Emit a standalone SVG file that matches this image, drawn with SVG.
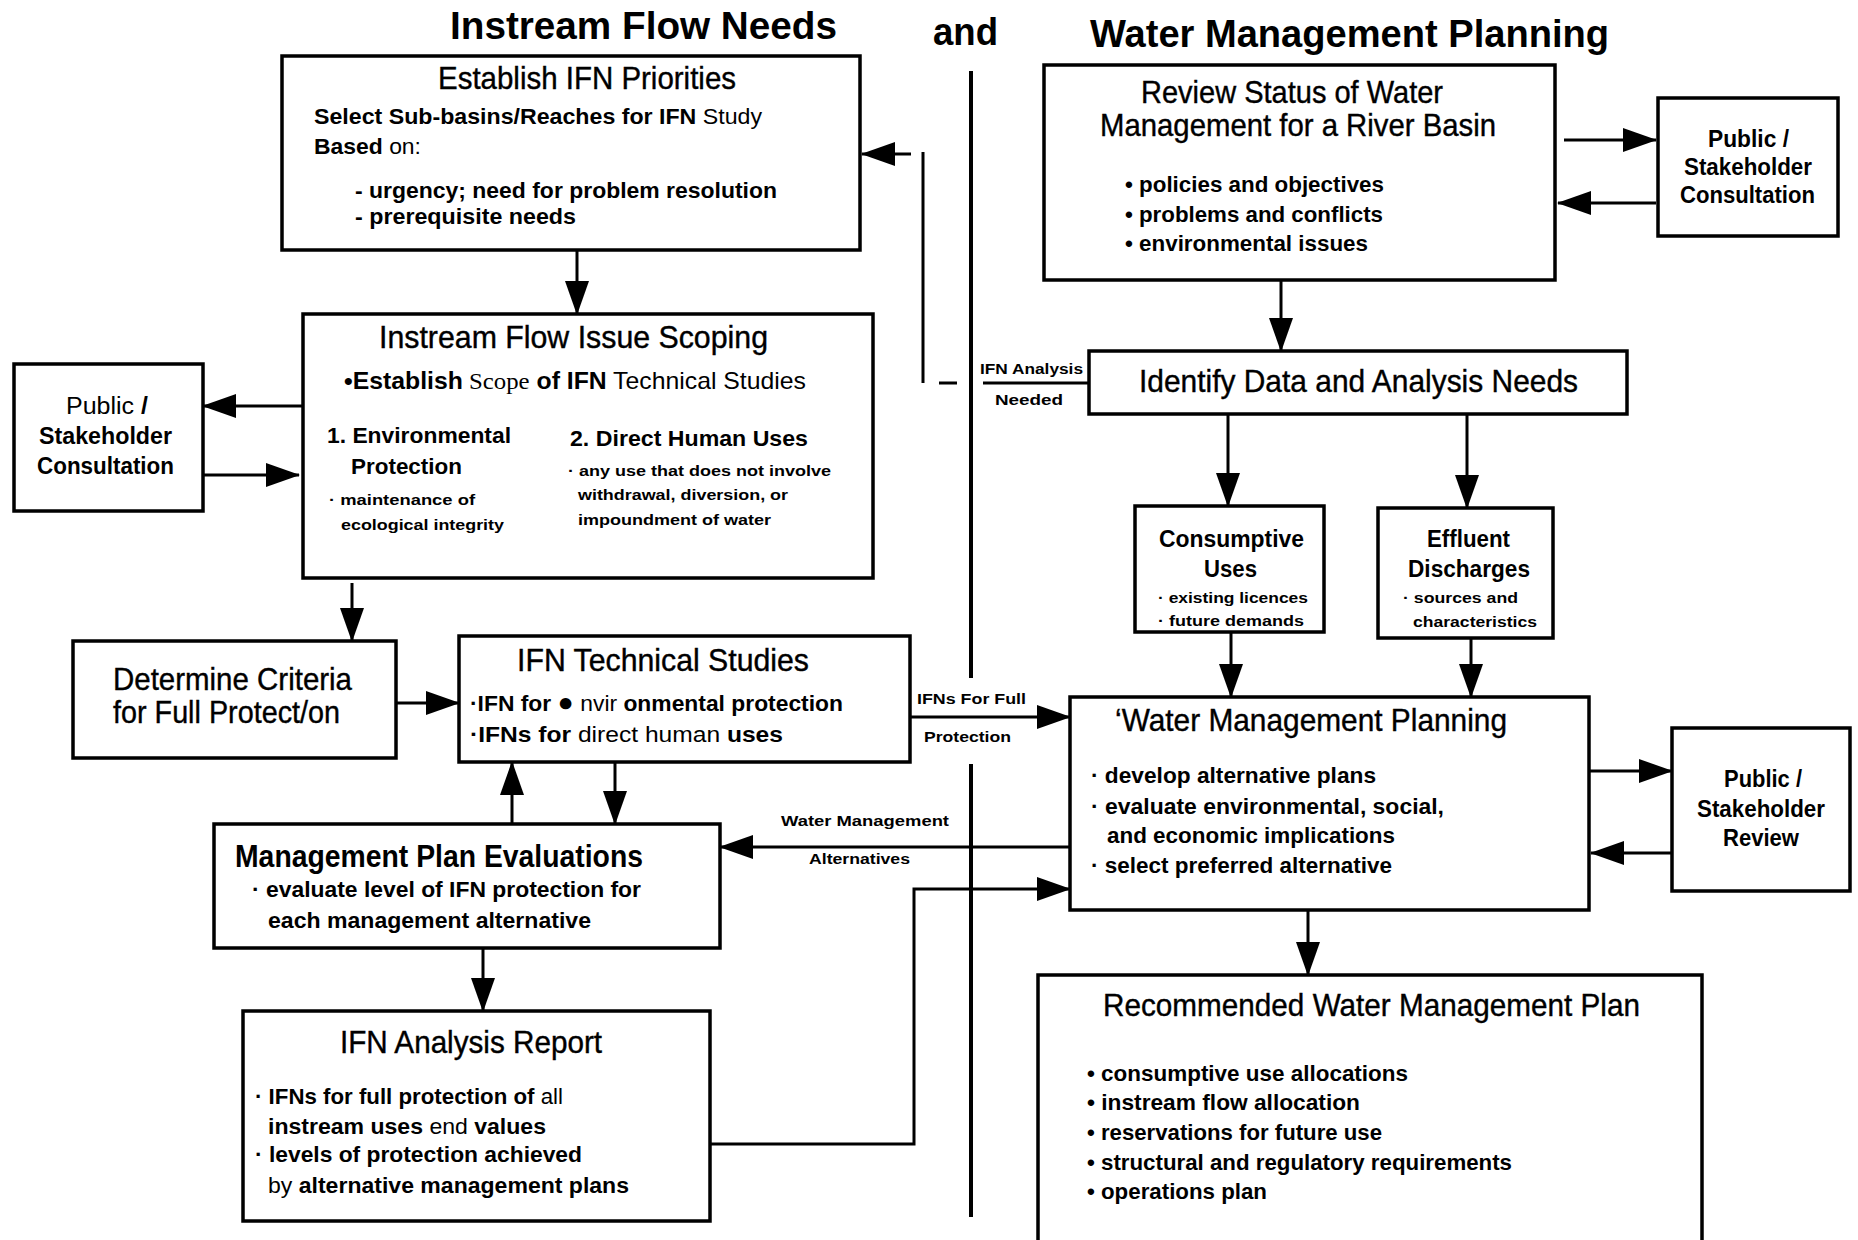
<svg xmlns="http://www.w3.org/2000/svg" width="1858" height="1240" viewBox="0 0 1858 1240">
<style>
.box{fill:#fff;stroke:#000;stroke-width:3.5}
.ln{fill:none;stroke:#000;stroke-width:3}
.ar{fill:none;stroke:#000;stroke-width:3;marker-end:url(#ah)}
text{font-family:"Liberation Sans",Arial,sans-serif;fill:#000}
.ti{font-size:38px;font-weight:bold}
.hd{font-size:32px;stroke:#000;stroke-width:0.4}
.bl{font-size:22px;font-weight:bold}
.sm{font-size:15px;font-weight:bold}
.lb{font-size:14px;font-weight:bold}
.pb{font-size:23px;font-weight:bold}
.r{font-weight:normal}
.sf{font-family:"Liberation Serif",serif;font-weight:normal}
</style>
<defs>
<marker id="ah" markerUnits="userSpaceOnUse" markerWidth="34" markerHeight="24" refX="33" refY="12" orient="auto"><path d="M0,0 L34,12 L0,24 z" fill="#000"/></marker>
</defs>

<g id="titles">
<text class="ti" x="450" y="39" textLength="387" lengthAdjust="spacingAndGlyphs">Instream Flow Needs</text>
<text class="ti" x="933" y="45" textLength="65" lengthAdjust="spacingAndGlyphs">and</text>
<text class="ti" x="1090" y="47" textLength="519" lengthAdjust="spacingAndGlyphs">Water  Management  Planning</text>
</g>

<g id="connectors">
<path class="ar" d="M577,250 L577,314"/>
<path class="ar" d="M303,406 L203,406"/>
<path class="ar" d="M203,475 L299,475"/>
<path class="ar" d="M352,583 L352,641"/>
<path class="ar" d="M396,703 L459,703"/>
<path class="ar" d="M512,824 L512,762"/>
<path class="ar" d="M615,762 L615,824"/>
<path class="ar" d="M483,948 L483,1011"/>
<path class="ar" d="M710,1144 L914,1144 L914,889 L1070,889"/>
<path class="ln" d="M971,71 L971,678 M971,764 L971,1217" style="stroke-width:4"/>
<path class="ar" d="M910,717 L1070,717"/>
<path class="ar" d="M1070,847 L720,847"/>
<path class="ar" d="M1564,140 L1656,140"/>
<path class="ar" d="M1656,203 L1558,203"/>
<path class="ar" d="M1281,280 L1281,351"/>
<path class="ar" d="M1228,414 L1228,506"/>
<path class="ar" d="M1467,414 L1467,508"/>
<path class="ar" d="M1231,632 L1231,697"/>
<path class="ar" d="M1471,638 L1471,697"/>
<path class="ar" d="M1589,771 L1672,771"/>
<path class="ar" d="M1672,853 L1591,853"/>
<path class="ar" d="M1308,910 L1308,975"/>
<path class="ln" d="M1089,383 L983,383 M957,383 L939,383 M923,383 L923,152"/>
<path class="ar" d="M911,154 L862,154"/>
<text class="lb" x="980" y="374" textLength="103" lengthAdjust="spacingAndGlyphs">IFN Analysis</text>
<text class="lb" x="995" y="405" textLength="68" lengthAdjust="spacingAndGlyphs">Needed</text>
<text class="lb" x="917" y="704" textLength="109" lengthAdjust="spacingAndGlyphs">IFNs For Full</text>
<text class="lb" x="924" y="742" textLength="87" lengthAdjust="spacingAndGlyphs">Protection</text>
<text class="lb" x="781" y="826" textLength="168" lengthAdjust="spacingAndGlyphs">Water Management</text>
<text class="lb" x="809" y="864" textLength="101" lengthAdjust="spacingAndGlyphs">Alternatives</text>
</g>

<g id="establish-priorities">
<rect class="box" x="282" y="56" width="578" height="194"/>
<text class="hd" x="438" y="89" textLength="298" lengthAdjust="spacingAndGlyphs">Establish IFN Priorities</text>
<text class="bl" x="314" y="124" textLength="448" lengthAdjust="spacingAndGlyphs">Select Sub-basins/Reaches for IFN<tspan class="r"> Study</tspan></text>
<text class="bl" x="314" y="154" textLength="107" lengthAdjust="spacingAndGlyphs">Based<tspan class="r"> on:</tspan></text>
<text class="bl" x="355" y="198" textLength="422" lengthAdjust="spacingAndGlyphs">- urgency; need for problem resolution</text>
<text class="bl" x="355" y="224" textLength="221" lengthAdjust="spacingAndGlyphs">- prerequisite needs</text>
</g>

<g id="issue-scoping">
<rect class="box" x="303" y="314" width="570" height="264"/>
<text class="hd" x="379" y="348" textLength="389" lengthAdjust="spacingAndGlyphs">Instream Flow Issue Scoping</text>
<text class="bl" x="344" y="389" textLength="462" lengthAdjust="spacingAndGlyphs" style="font-size:24px">•Establish<tspan class="sf"> Scope</tspan> of IFN<tspan class="r">  Technical  Studies</tspan></text>
<text class="bl" x="327" y="443" textLength="184" lengthAdjust="spacingAndGlyphs">1. Environmental</text>
<text class="bl" x="351" y="474" textLength="111" lengthAdjust="spacingAndGlyphs">Protection</text>
<text class="sm" x="329" y="505" textLength="146" lengthAdjust="spacingAndGlyphs">· maintenance of</text>
<text class="sm" x="341" y="530" textLength="163" lengthAdjust="spacingAndGlyphs">ecological integrity</text>
<text class="bl" x="570" y="446" textLength="238" lengthAdjust="spacingAndGlyphs">2. Direct Human Uses</text>
<text class="sm" x="568" y="476" textLength="263" lengthAdjust="spacingAndGlyphs">· any use that does not involve</text>
<text class="sm" x="578" y="500" textLength="210" lengthAdjust="spacingAndGlyphs">withdrawal, diversion, or</text>
<text class="sm" x="578" y="525" textLength="193" lengthAdjust="spacingAndGlyphs">impoundment of water</text>
</g>

<g id="public-consultation-left">
<rect class="box" x="14" y="364" width="189" height="147"/>
<text class="pb" x="66" y="414" textLength="82" lengthAdjust="spacingAndGlyphs"><tspan class="r">Public</tspan> /</text>
<text class="pb" x="39" y="444" textLength="133" lengthAdjust="spacingAndGlyphs">Stakeholder</text>
<text class="pb" x="37" y="474" textLength="137" lengthAdjust="spacingAndGlyphs">Consultation</text>
</g>

<g id="determine-criteria">
<rect class="box" x="73" y="641" width="323" height="117"/>
<text class="hd" x="113" y="690" textLength="239" lengthAdjust="spacingAndGlyphs">Determine Criteria</text>
<text class="hd" x="113" y="723" textLength="227" lengthAdjust="spacingAndGlyphs">for Full Protect/on</text>
</g>

<g id="technical-studies">
<rect class="box" x="459" y="636" width="451" height="126"/>
<text class="hd" x="517" y="671" textLength="292" lengthAdjust="spacingAndGlyphs">IFN  Technical  Studies</text>
<text class="bl" x="470" y="711" textLength="373" lengthAdjust="spacingAndGlyphs">·IFN for  <tspan style="font-size:26px">●</tspan>  <tspan class="r">nvir </tspan>onmental protection</text>
<text class="bl" x="470" y="742" textLength="313" lengthAdjust="spacingAndGlyphs">·IFNs for<tspan class="r"> direct  human </tspan> uses</text>
</g>

<g id="plan-evaluations">
<rect class="box" x="214" y="824" width="506" height="124"/>
<text class="hd" x="235" y="867" textLength="408" lengthAdjust="spacingAndGlyphs" style="font-weight:bold;stroke-width:0">Management Plan Evaluations</text>
<text class="bl" x="252" y="897" textLength="389" lengthAdjust="spacingAndGlyphs">· evaluate level of IFN protection for</text>
<text class="bl" x="268" y="928" textLength="323" lengthAdjust="spacingAndGlyphs">each management alternative</text>
</g>

<g id="analysis-report">
<rect class="box" x="243" y="1011" width="467" height="210"/>
<text class="hd" x="340" y="1053" textLength="262" lengthAdjust="spacingAndGlyphs">IFN  Analysis  Report</text>
<text class="bl" x="255" y="1104" textLength="308" lengthAdjust="spacingAndGlyphs">· IFNs for full protection of<tspan class="r"> all</tspan></text>
<text class="bl" x="268" y="1134" textLength="278" lengthAdjust="spacingAndGlyphs">instream uses<tspan class="r"> end </tspan>values</text>
<text class="bl" x="255" y="1162" textLength="327" lengthAdjust="spacingAndGlyphs">· levels of protection achieved</text>
<text class="bl" x="268" y="1193" textLength="361" lengthAdjust="spacingAndGlyphs"><tspan class="r">by </tspan>alternative management plans</text>
</g>

<g id="review-status">
<rect class="box" x="1044" y="65" width="511" height="215"/>
<text class="hd" x="1141" y="103" textLength="302" lengthAdjust="spacingAndGlyphs">Review Status of Water</text>
<text class="hd" x="1100" y="136" textLength="396" lengthAdjust="spacingAndGlyphs">Management  for  a  River  Basin</text>
<text class="bl" x="1125" y="192" textLength="259" lengthAdjust="spacingAndGlyphs">• policies and objectives</text>
<text class="bl" x="1125" y="222" textLength="258" lengthAdjust="spacingAndGlyphs">• problems and conflicts</text>
<text class="bl" x="1125" y="251" textLength="243" lengthAdjust="spacingAndGlyphs">• environmental issues</text>
</g>

<g id="public-consultation-right">
<rect class="box" x="1658" y="98" width="180" height="138"/>
<text class="pb" x="1708" y="147" textLength="81" lengthAdjust="spacingAndGlyphs">Public /</text>
<text class="pb" x="1684" y="175" textLength="128" lengthAdjust="spacingAndGlyphs">Stakeholder</text>
<text class="pb" x="1680" y="203" textLength="135" lengthAdjust="spacingAndGlyphs">Consultation</text>
</g>

<g id="identify-needs">
<rect class="box" x="1089" y="351" width="538" height="63"/>
<text class="hd" x="1139" y="392" textLength="439" lengthAdjust="spacingAndGlyphs">Identify Data and Analysis Needs</text>
</g>

<g id="consumptive-uses">
<rect class="box" x="1135" y="506" width="189" height="126"/>
<text class="pb" x="1159" y="547" textLength="145" lengthAdjust="spacingAndGlyphs">Consumptive</text>
<text class="pb" x="1204" y="577" textLength="53" lengthAdjust="spacingAndGlyphs">Uses</text>
<text class="sm" x="1158" y="603" textLength="150" lengthAdjust="spacingAndGlyphs">· existing licences</text>
<text class="sm" x="1158" y="626" textLength="146" lengthAdjust="spacingAndGlyphs">· future demands</text>
</g>

<g id="effluent-discharges">
<rect class="box" x="1378" y="508" width="175" height="130"/>
<text class="pb" x="1427" y="547" textLength="83" lengthAdjust="spacingAndGlyphs">Effluent</text>
<text class="pb" x="1408" y="577" textLength="122" lengthAdjust="spacingAndGlyphs">Discharges</text>
<text class="sm" x="1403" y="603" textLength="115" lengthAdjust="spacingAndGlyphs">· sources and</text>
<text class="sm" x="1413" y="627" textLength="124" lengthAdjust="spacingAndGlyphs">characteristics</text>
</g>

<g id="water-management-planning">
<rect class="box" x="1070" y="697" width="519" height="213"/>
<text class="hd" x="1115" y="731" textLength="392" lengthAdjust="spacingAndGlyphs">‘Water  Management  Planning</text>
<text class="bl" x="1091" y="783" textLength="285" lengthAdjust="spacingAndGlyphs">· develop alternative plans</text>
<text class="bl" x="1091" y="814" textLength="353" lengthAdjust="spacingAndGlyphs">· evaluate environmental,  social,</text>
<text class="bl" x="1107" y="843" textLength="288" lengthAdjust="spacingAndGlyphs">and economic implications</text>
<text class="bl" x="1091" y="873" textLength="301" lengthAdjust="spacingAndGlyphs">· select preferred alternative</text>
</g>

<g id="public-review">
<rect class="box" x="1672" y="728" width="178" height="163"/>
<text class="pb" x="1724" y="787" textLength="78" lengthAdjust="spacingAndGlyphs">Public /</text>
<text class="pb" x="1697" y="817" textLength="128" lengthAdjust="spacingAndGlyphs">Stakeholder</text>
<text class="pb" x="1723" y="846" textLength="76" lengthAdjust="spacingAndGlyphs">Review</text>
</g>

<g id="recommended-plan">
<rect class="box" x="1038" y="975" width="664" height="290"/>
<text class="hd" x="1103" y="1016" textLength="537" lengthAdjust="spacingAndGlyphs">Recommended  Water  Management  Plan</text>
<text class="bl" x="1087" y="1081" textLength="321" lengthAdjust="spacingAndGlyphs">• consumptive use allocations</text>
<text class="bl" x="1087" y="1110" textLength="273" lengthAdjust="spacingAndGlyphs">• instream  flow allocation</text>
<text class="bl" x="1087" y="1140" textLength="295" lengthAdjust="spacingAndGlyphs">• reservations for future use</text>
<text class="bl" x="1087" y="1170" textLength="425" lengthAdjust="spacingAndGlyphs">• structural and regulatory requirements</text>
<text class="bl" x="1087" y="1199" textLength="180" lengthAdjust="spacingAndGlyphs">• operations plan</text>
</g>
</svg>
